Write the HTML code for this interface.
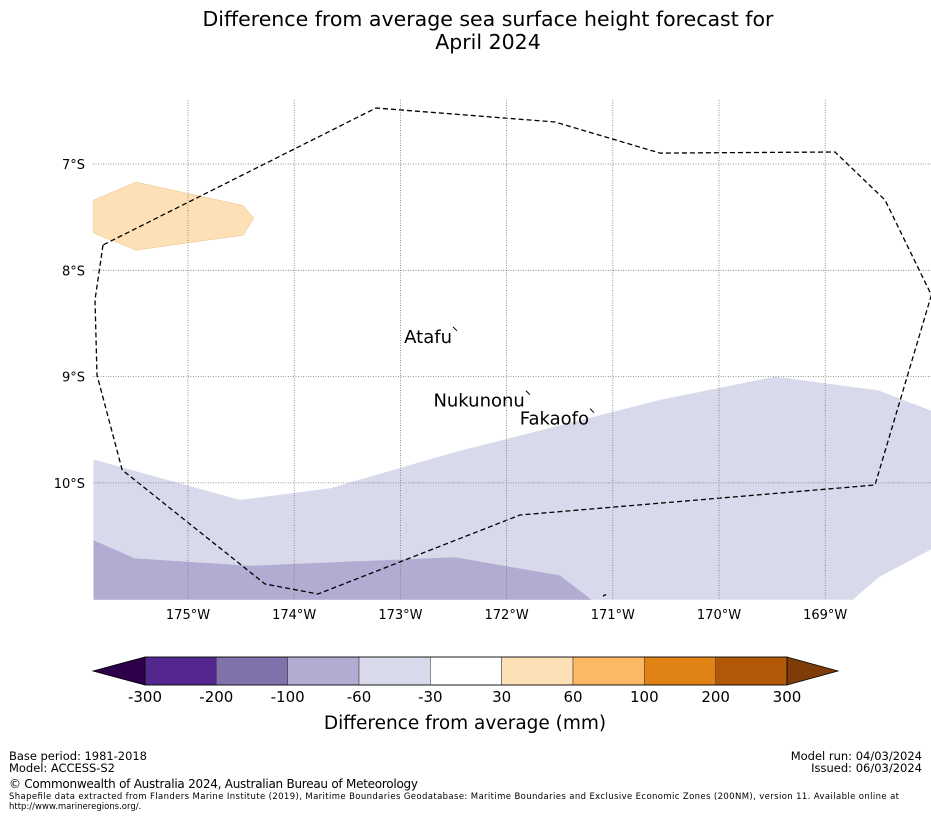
<!DOCTYPE html>
<html><head><meta charset="utf-8"><style>
body{margin:0;background:#fff;width:931px;height:816px;overflow:hidden;font-family:"DejaVu Sans","Liberation Sans",sans-serif}
svg{position:absolute;left:0;top:0}
</style></head><body>
<svg width="931" height="816" xmlns="http://www.w3.org/2000/svg">
<text x="488" y="26" font-size="20.5" text-anchor="middle">Difference from average sea surface height forecast for</text>
<text x="488" y="49" font-size="20.5" text-anchor="middle">April 2024</text>
<defs><clipPath id="mc"><rect x="93" y="100" width="838" height="500"/></clipPath></defs>
<g id="map" clip-path="url(#mc)"></g>
<g id="grid"></g>
<g id="ticks"></g>
<g id="labels"></g>
<g id="cbar"></g>
<text x="465" y="729" font-size="18.5" text-anchor="middle">Difference from average (mm)</text>
<g font-size="11.5">
<text x="9" y="760" textLength="138">Base period: 1981-2018</text>
<text x="9" y="772" textLength="106">Model: ACCESS-S2</text>
<text x="922" y="760" text-anchor="end">Model run: 04/03/2024</text>
<text x="922" y="772" text-anchor="end">Issued: 06/03/2024</text>
<text x="9" y="788" font-size="12" textLength="409">© Commonwealth of Australia 2024, Australian Bureau of Meteorology</text>
<text x="9" y="799" font-size="8.5" textLength="890">Shapefile data extracted from Flanders Marine Institute (2019), Maritime Boundaries Geodatabase: Maritime Boundaries and Exclusive Economic Zones (200NM), version 11. Available online at</text>
<text x="9" y="809" font-size="8.5">http://www.marineregions.org/.</text>
</g>
</svg>
<script>
const lonTicks=[-175,-174,-173,-172,-171,-170,-169];
const latTicks=[-7,-8,-9,-10];
const lonTickLabels=["175°W","174°W","173°W","172°W","171°W","170°W","169°W"];
const latTickLabels=["7°S","8°S","9°S","10°S"];
const eezLon=[-175.80,-175.876,-175.857,-175.62,-174.275,-173.776,-171.874,-168.531,-168.0,-168.437,-168.908,-170.556,-171.544,-173.23,-175.80];
const eezLat=[-7.762,-8.279,-8.985,-9.879,-10.951,-11.045,-10.302,-10.020,-8.232,-7.339,-6.887,-6.897,-6.605,-6.473,-7.762];
const lightLon=[-175.89,-174.51,-173.66,-172.49,-171.50,-170.56,-169.47,-168.50,-167.9,-167.9,-168.50,-168.74,-175.89];
const lightLat=[-9.78,-10.16,-10.05,-9.71,-9.46,-9.22,-9.00,-9.13,-9.36,-10.57,-10.89,-11.10,-11.10];
const midLon=[-175.89,-175.50,-174.42,-172.49,-171.50,-171.20,-175.89];
const midLat=[-10.54,-10.71,-10.78,-10.70,-10.87,-11.10,-11.10];
const orangeLon=[-175.89,-175.49,-174.48,-174.38,-174.48,-175.49,-175.89];
const orangeLat=[-7.34,-7.17,-7.39,-7.51,-7.67,-7.81,-7.65];
const placeNames=["Atafu","Nukunonu","Fakaofo"];
const placeLon=[-172.486,-171.80,-171.196];
const placeLat=[-8.56,-9.16,-9.33];
const cbLevels=["-300","-200","-100","-60","-30","30","60","100","200","300"];
const cbColors=["#54278f","#8073ac","#b2abd2","#d8daeb","#ffffff","#fee0b6","#fdb863","#e08214","#b35806"];
const cbLow="#2d004b", cbHigh="#7f3b08";

const NS="http://www.w3.org/2000/svg";
const X=lon=>188+(lon+175)*106.2;
const Y=lat=>164+(-lat-7)*106.3;
function mk(t,a,p){const e=document.createElementNS(NS,t);for(const k in a)e.setAttribute(k,a[k]);p.appendChild(e);return e;}
function pts(lo,la){return lo.map((v,i)=>X(v).toFixed(1)+","+Y(la[i]).toFixed(1)).join(" ");}
const map=document.getElementById('map');
let p=mk('polygon',{points:pts(lightLon,lightLat),fill:"#d8daeb"},map);


p=mk('polygon',{points:pts(midLon,midLat),fill:"#b2abd2"},map);


p=mk('polygon',{points:pts(orangeLon,orangeLat),fill:"#fee0b6",stroke:"#e8c090","stroke-width":"0.5"},map);


const grid=document.getElementById('grid');
lonTicks.forEach(l=>{const e=mk('line',{x1:X(l),x2:X(l),y1:100,y2:600,stroke:"#777","stroke-width":"0.8","stroke-dasharray":"1,1.5"},grid);

});
latTicks.forEach(l=>{const e=mk('line',{x1:93,x2:931,y1:Y(l),y2:Y(l),stroke:"#777","stroke-width":"0.8","stroke-dasharray":"1,1.5"},grid);

});
p=mk('polyline',{points:pts(eezLon,eezLat),fill:"none",stroke:"#000","stroke-width":"1.3","stroke-dasharray":"5,3"},map);


p=mk('line',{x1:603,y1:596,x2:606,y2:594.5,stroke:"#000","stroke-width":"1.3"},map);


const tk=document.getElementById('ticks');
lonTicks.forEach((l,i)=>{const t=mk('text',{x:X(l),y:619,"font-size":"13","text-anchor":"middle"},tk);t.textContent=lonTickLabels[i];

});
latTicks.forEach((l,i)=>{const t=mk('text',{x:85,y:Y(l)+5,"font-size":"13","text-anchor":"end"},tk);t.textContent=latTickLabels[i];

});
const lb=document.getElementById('labels');
placeNames.forEach((n,i)=>{const x=X(placeLon[i]),y=Y(placeLat[i]);
const m=mk('path',{d:`M${x-2} ${y-3} L${x+2} ${y+1}`,stroke:"#000","stroke-width":"1"},lb);


const t=mk('text',{x:x-3,y:y+13,"font-size":"18","text-anchor":"end"},lb);t.textContent=n;

});
const cb=document.getElementById('cbar');
const x0=145,x1=787,y0=657,y1=685,w=(x1-x0)/cbColors.length;
p=mk('polygon',{points:`93,671 ${x0},${y0} ${x0},${y1}`,fill:cbLow,stroke:"#000","stroke-width":"0.8"},cb);


p=mk('polygon',{points:`838,671 ${x1},${y0} ${x1},${y1}`,fill:cbHigh,stroke:"#000","stroke-width":"0.8"},cb);


cbColors.forEach((c,i)=>{const r=mk('rect',{x:x0+i*w,y:y0,width:w,height:y1-y0,fill:c,stroke:"#444","stroke-width":"0.6"},cb);

});
p=mk('rect',{x:x0,y:y0,width:x1-x0,height:y1-y0,fill:"none",stroke:"#000","stroke-width":"0.8"},cb);


cbLevels.forEach((l,i)=>{const t=mk('text',{x:x0+i*w,y:702,"font-size":"15","text-anchor":"middle"},cb);t.textContent=l;

});
</script>
</body></html>
